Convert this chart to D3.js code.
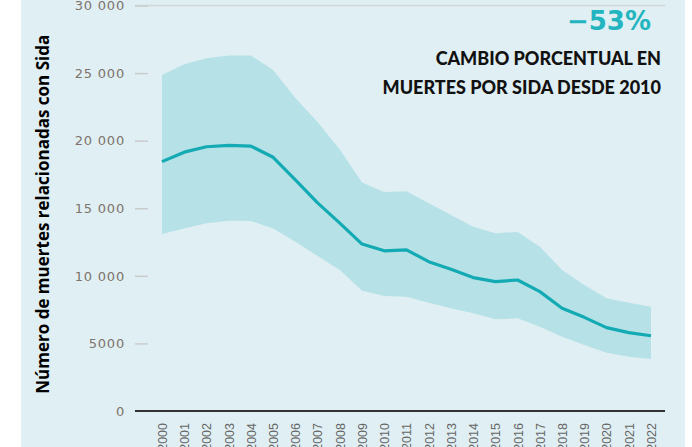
<!DOCTYPE html>
<html>
<head>
<meta charset="utf-8">
<script src="https://cdn.jsdelivr.net/npm/d3@7"></script>
<style>
  body { margin: 0; background: #fff; }
  svg { display: block; }
</style>
</head>
<body>
<div id="chart"></div>
<script>
const years = d3.range(2000, 2023);
const deaths = [18450, 19150, 19550, 19650, 19600, 18770, 17100, 15400, 13900, 12350, 11850,
  11920, 11050, 10480, 9870, 9570, 9690, 8830, 7600, 6930, 6170, 5800, 5570];
const upper = [24850, 25650, 26100, 26300, 26300, 25230, 23150, 21380, 19350, 16900, 16200,
  16250, 15370, 14500, 13640, 13150, 13250, 12160, 10430, 9320, 8340, 8010, 7720];
const lower = [13100, 13510, 13890, 14080, 14060, 13510, 12530, 11470, 10430, 8900, 8510,
  8460, 8010, 7600, 7230, 6780, 6860, 6240, 5500, 4880, 4310, 4020, 3850];
const yTicks = [0, 5000, 10000, 15000, 20000, 25000, 30000];

const width = 692, height = 447;
const svg = d3.select("#chart").append("svg")
  .attr("width", width).attr("height", height);

svg.append("rect")
  .attr("x", 21).attr("y", 0).attr("width", 664).attr("height", height)
  .attr("fill", "#e0eff3");

const x = d3.scaleLinear().domain([2000, 2022]).range([162, 651]);
const y = d3.scaleLinear().domain([0, 30000]).range([411, 5.5]);

const fmt = d => d >= 10000 ? d3.format(",")(d).replace(/,/g, " ") : String(d);

// top gridline
svg.append("line")
  .attr("x1", 135).attr("x2", 665)
  .attr("y1", y(30000)).attr("y2", y(30000))
  .attr("stroke", "#cfd6d8").attr("stroke-width", 1.5);

// band
const area = d3.area()
  .x((d, i) => x(years[i]))
  .y0((d, i) => y(lower[i]))
  .y1((d, i) => y(upper[i]));
svg.append("path").datum(upper)
  .attr("d", area)
  .attr("fill", "#b6e2e7");

// mean line
const line = d3.line()
  .x((d, i) => x(years[i]))
  .y(d => y(d));
svg.append("path").datum(deaths)
  .attr("d", line)
  .attr("fill", "none")
  .attr("stroke", "#13aab3")
  .attr("stroke-width", 3.2)
  .attr("stroke-linejoin", "round");

// y axis
const yAxis = svg.append("g")
  .attr("transform", "translate(148,0)")
  .call(d3.axisLeft(y).tickValues(yTicks).tickFormat(fmt).tickSize(13).tickPadding(10));
yAxis.select(".domain").remove();
yAxis.selectAll(".tick line").attr("stroke", "#c9cccd").attr("stroke-width", 1.5);
yAxis.selectAll(".tick text")
  .attr("fill", "#7d736b")
  .style("font-family", "'DejaVu Sans', Verdana, sans-serif")
  .style("font-size", "13px")
  .style("letter-spacing", "0.8px");
yAxis.selectAll(".tick").filter(d => d === 0).select("line").remove();

// baseline
svg.append("line")
  .attr("x1", 135).attr("x2", 665)
  .attr("y1", y(0)).attr("y2", y(0))
  .attr("stroke", "#333").attr("stroke-width", 2);

// x axis
const xAxis = svg.append("g")
  .attr("transform", `translate(0,${y(0)})`)
  .call(d3.axisBottom(x).tickValues(years).tickFormat(d3.format("d")).tickSize(0));
xAxis.select(".domain").remove();
xAxis.selectAll(".tick text")
  .attr("transform", "rotate(-90)")
  .attr("x", -12).attr("y", 0).attr("dy", "0.35em")
  .attr("text-anchor", "end")
  .attr("fill", "#666")
  .style("font-family", "'Liberation Sans Narrow', 'Liberation Sans', Arial, sans-serif")
  .style("font-size", "12.5px");

// y label
svg.append("text")
  .attr("transform", `translate(49,${y(15000) + 6}) rotate(-90)`)
  .attr("text-anchor", "middle")
  .attr("fill", "#000")
  .style("font-family", "'Open Sans', Lato, sans-serif")
  .style("font-weight", "bold")
  .style("font-size", "17px")
  .text("Número de muertes relacionadas con Sida");

// annotation
svg.append("text")
  .attr("x", 651).attr("y", 30)
  .attr("text-anchor", "end")
  .attr("fill", "#22b5bf")
  .style("font-family", "'DejaVu Sans', sans-serif")
  .style("font-weight", "bold")
  .style("font-size", "26px")
  .text("\u221253%");

const note = ["CAMBIO PORCENTUAL EN", "MUERTES POR SIDA DESDE 2010"];
svg.append("text")
  .attr("text-anchor", "end")
  .attr("fill", "#111")
  .style("font-family", "Lato, 'Open Sans', sans-serif")
  .style("font-weight", "900")
  .style("font-size", "18px")
  .selectAll("tspan").data(note).join("tspan")
  .attr("x", 661)
  .attr("y", (d, i) => 65 + i * 29)
  .text(d => d);
</script>
</body>
</html>
